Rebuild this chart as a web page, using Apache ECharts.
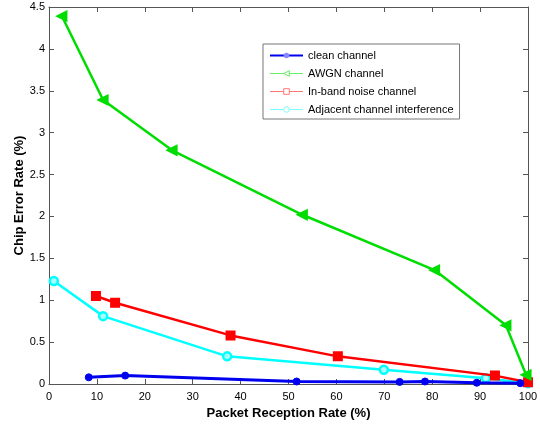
<!DOCTYPE html>
<html><head><meta charset="utf-8">
<script src="https://cdn.jsdelivr.net/npm/echarts@6/dist/echarts.min.js"></script>
<style>html,body{margin:0;padding:0;background:#fff}#c{width:540px;height:425px}</style>
</head><body><div id="c"></div>
<script>
const seriesNames = ['clean channel','AWGN channel','In-band noise channel','Adjacent channel interference'];
const cleanX = [8.3, 15.9, 51.7, 73.2, 78.5, 89.3, 98.4];
const cleanY = [0.08, 0.10, 0.03, 0.025, 0.03, 0.015, 0.01];
const awgnX = [2.7, 11.3, 25.7, 52.9, 80.5, 95.4, 99.6];
const awgnY = [4.39, 3.39, 2.79, 2.02, 1.36, 0.70, 0.11];
const inbandX = [9.8, 13.8, 37.9, 60.3, 93.1, 100];
const inbandY = [1.05, 0.97, 0.58, 0.33, 0.10, 0.02];
const adjX = [1.0, 11.3, 37.2, 69.9, 91.2, 100];
const adjY = [1.23, 0.81, 0.33, 0.17, 0.07, 0.01];
const xTicks = [0,10,20,30,40,50,60,70,80,90,100];
const yTicks = [0,0.5,1,1.5,2,2.5,3,3.5,4,4.5];

const pair = (xs, ys) => xs.map((x,i)=>[x, ys[i]]);
const font = 'Liberation Sans, Arial, sans-serif';
const chart = echarts.init(document.getElementById('c'), null, {renderer:'canvas'});
const axisCommon = {
  axisLine:{show:true, onZero:false, lineStyle:{color:'#555', width:1}},
  axisTick:{show:true, inside:true, length:5, lineStyle:{color:'#555'}},
  splitLine:{show:false}
};
chart.setOption({
  animation:false,
  backgroundColor:'#fff',
  grid:{left:49, right:12, top:7, bottom:41, show:false, containLabel:false, outerBoundsMode:'none'},
  legend:{
    orient:'vertical', left:263, top:44,
    padding:[6,6,4,6], itemGap:7, itemWidth:33, itemHeight:7,
    backgroundColor:'#fff', borderColor:'#777', borderWidth:1,
    textStyle:{fontFamily:font, fontSize:11, color:'#000'},
    data:[
      {name:seriesNames[0], itemStyle:{color:'#8888ff', borderColor:'#8888ff', borderWidth:0}},
      {name:seriesNames[1], lineStyle:{width:1, color:'#66ee66'}, itemStyle:{color:'#fff', borderColor:'#66ee66', borderWidth:1}},
      {name:seriesNames[2], lineStyle:{width:1, color:'#ff7777'}, itemStyle:{color:'#fff', borderColor:'#ff7777', borderWidth:1}},
      {name:seriesNames[3], lineStyle:{width:1, color:'#77ffff'}, itemStyle:{color:'#fff', borderColor:'#77ffff', borderWidth:1}}
    ]
  },
  xAxis:[
    Object.assign({}, axisCommon, {type:'value', min:0, max:100, interval:10, position:'bottom',
      name:'Packet Reception Rate (%)', nameLocation:'middle', nameGap:22,
      nameTextStyle:{fontFamily:font, fontSize:13, fontWeight:'bold', color:'#000'},
      axisLabel:{fontFamily:font, fontSize:11, color:'#000', margin:7,
        formatter:v=> xTicks.includes(v) ? String(v) : ''}}),
    Object.assign({}, axisCommon, {type:'value', min:0, max:100, interval:10, position:'top', axisLabel:{show:false}})
  ],
  yAxis:[
    Object.assign({}, axisCommon, {type:'value', min:0, max:4.5, interval:0.5, position:'left',
      name:'Chip Error Rate (%)', nameLocation:'middle', nameGap:23, nameMoveOverlap:false,
      nameTextStyle:{fontFamily:font, fontSize:13, fontWeight:'bold', color:'#000'},
      axisLabel:{fontFamily:font, fontSize:11, color:'#000', margin:4,
        formatter:v=> yTicks.includes(v) ? String(v) : ''}}),
    Object.assign({}, axisCommon, {type:'value', min:0, max:4.5, interval:0.5, position:'right', axisLabel:{show:false}})
  ],
  series:[
    {name:seriesNames[3], type:'line', data:pair(adjX, adjY), z:3,
      lineStyle:{color:'#00ffff', width:2.5}, symbol:'circle', symbolSize:8,
      itemStyle:{color:'#aaffff', borderColor:'#00ffff', borderWidth:2.5}},
    {name:seriesNames[2], type:'line', data:pair(inbandX, inbandY), z:4,
      lineStyle:{color:'#ff0000', width:2.5}, symbol:'rect', symbolSize:8,
      itemStyle:{color:'#ff0000', borderColor:'#ff0000', borderWidth:2}},
    {name:seriesNames[1], type:'line', data:pair(awgnX, awgnY), z:5,
      lineStyle:{color:'#00dd00', width:2.5}, symbol:'triangle', symbolRotate:90, symbolSize:9,
      itemStyle:{color:'#00dd00', borderColor:'#00dd00', borderWidth:2}},
    {name:seriesNames[0], type:'line', data:pair(cleanX, cleanY), z:6,
      lineStyle:{color:'#0000ee', width:3}, symbol:'circle', symbolSize:7,
      itemStyle:{color:'#0000ee', borderColor:'#0000ee', borderWidth:1}}
  ]
});
</script></body></html>
